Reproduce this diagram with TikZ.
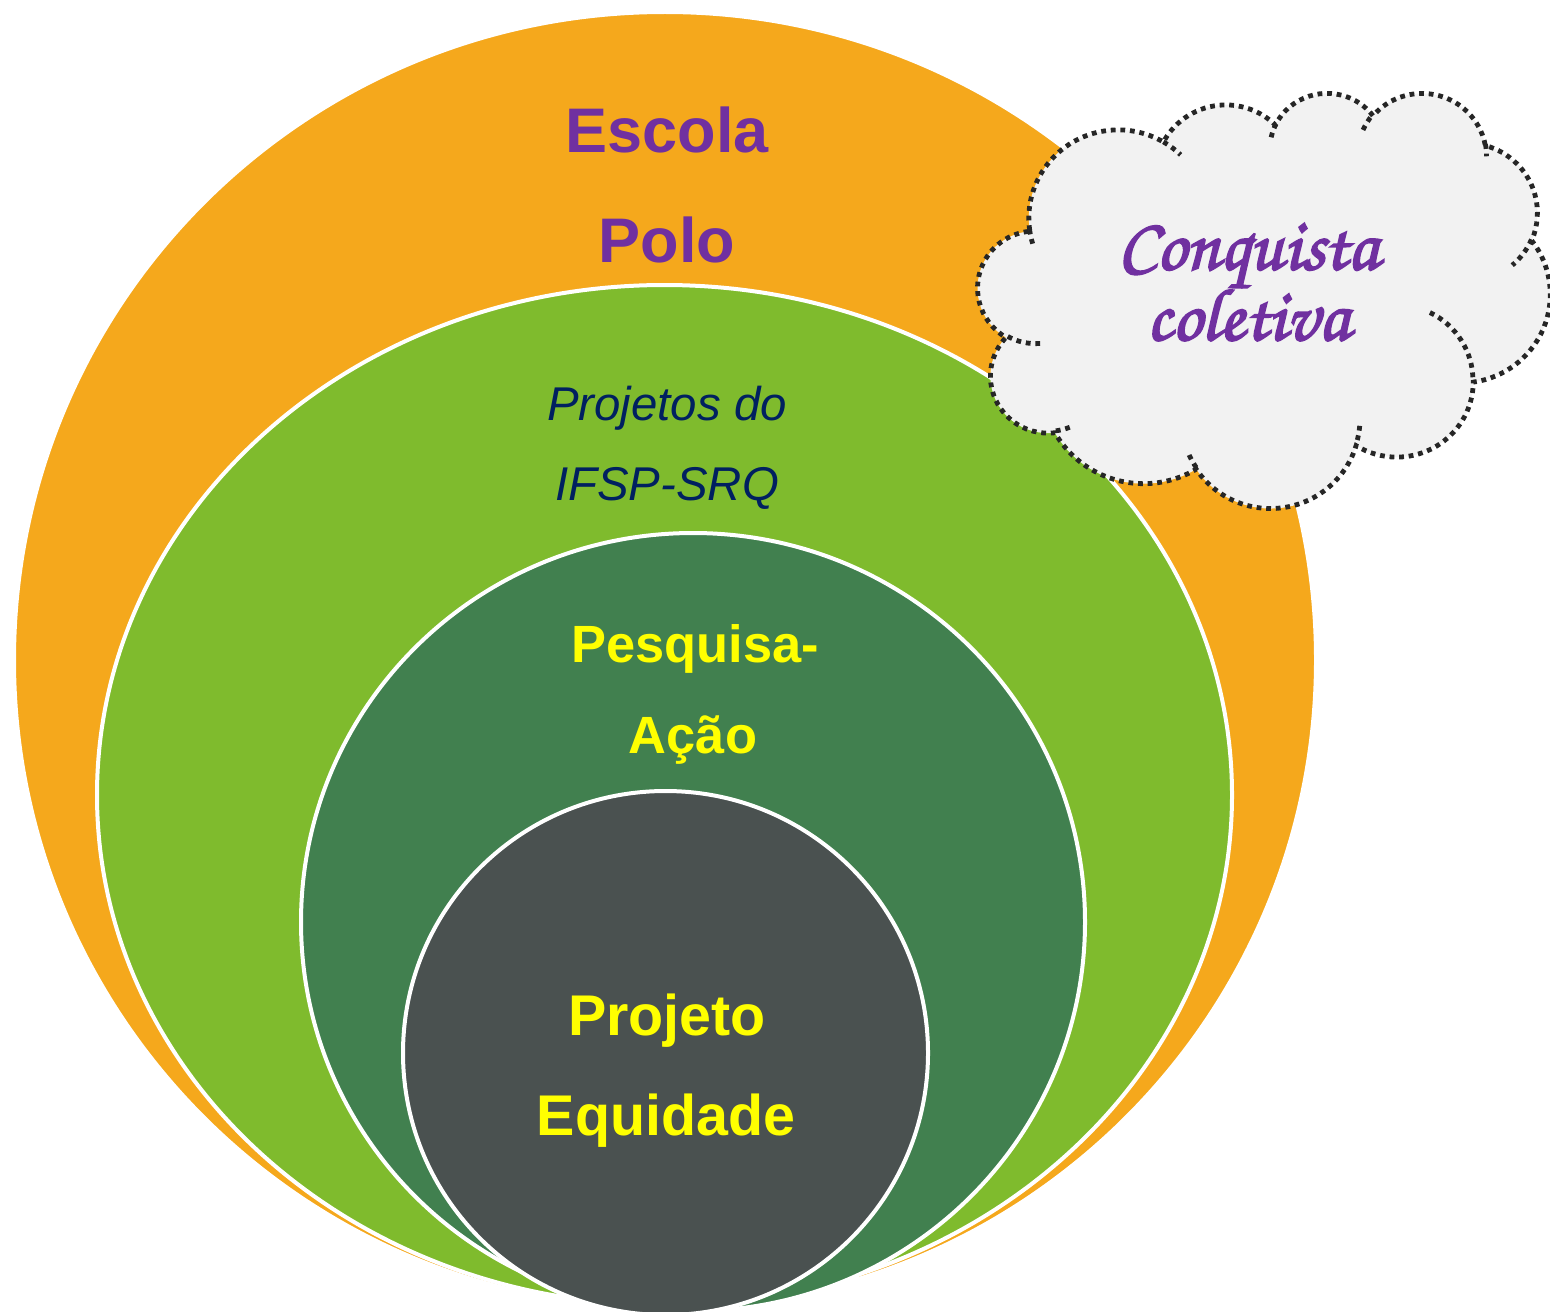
\documentclass[tikz,border=0pt]{standalone}
\usepackage{fontspec}
\setmainfont{Liberation Sans}
\newfontfamily\scriptfnt[FakeBold=2.5]{texgyrechorus-mediumitalic.otf}
\definecolor{orangeC}{HTML}{F5A81C}
\definecolor{lgreenC}{HTML}{7FBB2D}
\definecolor{dgreenC}{HTML}{41804F}
\definecolor{grayC}{HTML}{4A5150}
\definecolor{cloudC}{HTML}{F2F2F2}
\definecolor{purpleC}{HTML}{7030A0}
\definecolor{navyC}{HTML}{002060}
\definecolor{yellowC}{HTML}{FFFF00}
\definecolor{dotC}{HTML}{262626}
\newcommand\cloudprep[5]{%
  \pgfmathsetmacro\cpA{atan2(#2*sin(#4), #3*cos(#4))}%
  \pgfmathsetmacro\cpB{atan2(#2*sin(#4+#5), #3*cos(#4+#5))}%
  \pgfmathsetmacro\cpD{\cpB-\cpA}%
  \pgfmathsetmacro\cpD{\cpD<0 ? \cpD+360 : \cpD}%
  \pgfmathsetmacro\cpE{\cpA+\cpD}%
  \expandafter\let\csname #1s\endcsname\cpA
  \expandafter\let\csname #1e\endcsname\cpE}
\begin{document}
\begin{tikzpicture}[x=0.5pt,y=-0.5pt,
  ring/.style={draw=white,line width=2pt},
  cloudline/.style={draw=dotC,line width=2.4pt,dash pattern=on 2.4pt off 2.4pt},
  boldtxt/.style={anchor=base,inner sep=0pt,font=\bfseries},
]
\useasboundingbox (0,0) rectangle (1550,1311);
\clip (0,0) rectangle (1550,1311);
% nested ellipses
\path[ring,fill=orangeC] (665,660) ellipse[x radius=651,y radius=648];
\path[ring,fill=lgreenC] (664.5,795) ellipse[x radius=567.5,y radius=510];
\path[ring,fill=dgreenC] (693,922) ellipse[x radius=392,y radius=389];
\path[ring,fill=grayC] (665.5,1053) ellipse[x radius=262.5,y radius=262];
% texts
\node[boldtxt,text=purpleC,font=\fontsize{31.5}{38}\selectfont\bfseries] (escola) at (667,152) {Escola};
\node[boldtxt,text=purpleC,font=\fontsize{31.5}{38}\selectfont\bfseries] (polo) at (667,262) {Polo};
\node[anchor=base,inner sep=0pt,text=navyC,font=\fontsize{23.7}{28}\selectfont\itshape] (proj1) at (667,420) {Projetos do};
\node[anchor=base,inner sep=0pt,text=navyC,font=\fontsize{23.7}{28}\selectfont\itshape] (proj2) at (667,500) {IFSP-SRQ};
\node[boldtxt,text=yellowC,font=\fontsize{26.2}{31}\selectfont\bfseries] (pesq) at (695,662) {Pesquisa-};
\node[boldtxt,text=yellowC,font=\fontsize{26.2}{31}\selectfont\bfseries] (acao) at (693,753) {Ação};
\node[boldtxt,text=yellowC,font=\fontsize{28.7}{34}\selectfont\bfseries] (projeto) at (667,1035) {Projeto};
\node[boldtxt,text=yellowC,font=\fontsize{28.7}{34}\selectfont\bfseries] (equidade) at (666,1135) {Equidade};
% cloud
\cloudprep{cloudA}{67.53}{91.90}{-190.4875}{123.7805}
\cloudprep{cloudB}{53.33}{72.67}{-144.1024}{89.9452}
\cloudprep{cloudC}{43.65}{59.45}{-145.8079}{99.7230}
\cloudprep{cloudD}{48.57}{65.95}{-130.9861}{117.2417}
\cloudprep{cloudE}{53.33}{72.73}{-78.7089}{109.0269}
\cloudprep{cloudF}{67.75}{92.20}{-46.2673}{130.2690}
\cloudprep{cloudG}{57.85}{78.67}{0.6250}{114.0333}
\cloudprep{cloudH}{67.52}{92.15}{22.4516}{115.1726}
\cloudprep{cloudI}{77.20}{105.43}{66.2426}{75.7110}
\cloudprep{cloudJ}{43.60}{59.18}{-274.9421}{146.7356}
\cloudprep{cloudK}{43.45}{59.45}{-246.8285}{152.5189}
\cloudprep{innerA}{43.45}{59.45}{86.7420}{26.4295}
\cloudprep{innerB}{43.60}{59.18}{73.6105}{11.4475}
\cloudprep{innerC}{67.52}{92.15}{137.6242}{14.0811}
\cloudprep{innerD}{67.52}{92.15}{6.4533}{15.9984}
\cloudprep{innerE}{57.85}{78.67}{-70.2924}{70.9174}
\cloudprep{innerF}{53.33}{72.73}{30.3180}{27.7515}
\cloudprep{innerG}{48.57}{65.95}{-13.7443}{14.8589}
\cloudprep{innerH}{48.57}{65.95}{-149.1815}{18.1954}
\cloudprep{innerI}{43.65}{59.45}{-163.4943}{17.6864}
\cloudprep{innerJ}{67.53}{91.90}{-66.7070}{12.3194}
\cloudprep{innerK}{67.53}{91.90}{157.6544}{11.8582}
\begin{scope}[shift={(978,92)},xscale=572/432,yscale=415/432]
\path[cloudline,fill=cloudC] (39.00,143.70)
  arc[x radius=67.53,y radius=91.90,start angle=\cloudAs,end angle=\cloudAe]
  arc[x radius=53.33,y radius=72.67,start angle=\cloudBs,end angle=\cloudBe]
  arc[x radius=43.65,y radius=59.45,start angle=\cloudCs,end angle=\cloudCe]
  arc[x radius=48.57,y radius=65.95,start angle=\cloudDs,end angle=\cloudDe]
  arc[x radius=53.33,y radius=72.73,start angle=\cloudEs,end angle=\cloudEe]
  arc[x radius=67.75,y radius=92.20,start angle=\cloudFs,end angle=\cloudFe]
  arc[x radius=57.85,y radius=78.67,start angle=\cloudGs,end angle=\cloudGe]
  arc[x radius=67.52,y radius=92.15,start angle=\cloudHs,end angle=\cloudHe]
  arc[x radius=77.20,y radius=105.43,start angle=\cloudIs,end angle=\cloudIe]
  arc[x radius=43.60,y radius=59.18,start angle=\cloudJs,end angle=\cloudJe]
  arc[x radius=43.45,y radius=59.45,start angle=\cloudKs,end angle=\cloudKe]
  -- cycle;
\path[cloudline] (46.93,261.77) arc[x radius=43.45,y radius=59.45,start angle=\innerAs,end angle=\innerAe];
\path[cloudline] (69.28,348.99) arc[x radius=43.60,y radius=59.18,start angle=\innerBs,end angle=\innerBe];
\path[cloudline] (164.78,390.90) arc[x radius=67.52,y radius=92.15,start angle=\innerCs,end angle=\innerCe];
\path[cloudline] (288.27,347.51) arc[x radius=67.52,y radius=92.15,start angle=\innerDs,end angle=\innerDe];
\path[cloudline] (341.29,229.54) arc[x radius=57.85,y radius=78.67,start angle=\innerEs,end angle=\innerEe];
\path[cloudline] (417.98,153.54) arc[x radius=53.33,y radius=72.73,start angle=\innerFs,end angle=\innerFe];
\path[cloudline] (383.24,54.26) arc[x radius=48.57,y radius=65.95,start angle=\innerGs,end angle=\innerGe];
\path[cloudline] (290.78,39.52) arc[x radius=48.57,y radius=65.95,start angle=\innerHs,end angle=\innerHe];
\path[cloudline] (221.41,47.20) arc[x radius=43.65,y radius=59.45,start angle=\innerIs,end angle=\innerIe];
\path[cloudline] (140.00,51.92) arc[x radius=67.53,y radius=91.90,start angle=\innerJs,end angle=\innerJe];
\path[cloudline] (41.27,157.89) arc[x radius=67.53,y radius=91.90,start angle=\innerKs,end angle=\innerKe];
\end{scope}
\node[anchor=base,inner sep=0pt,align=center,text=purpleC,font=\fontsize{37}{34}\selectfont\scriptfnt] (conq) at (1248,340) {Conquista\\coletiva};
\end{tikzpicture}
\end{document}
